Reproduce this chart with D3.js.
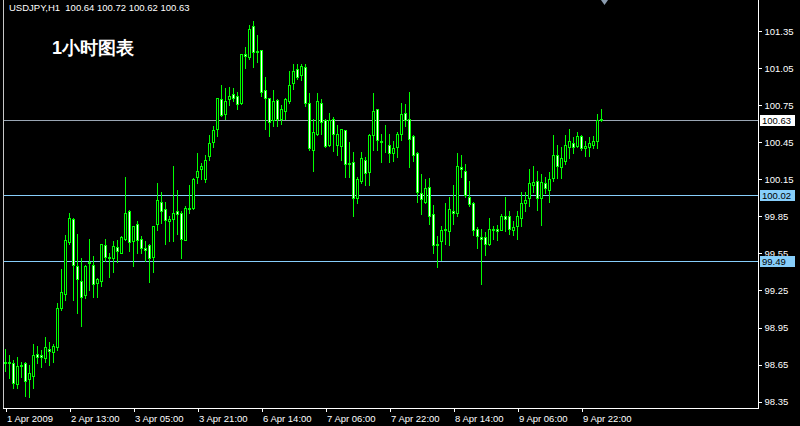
<!DOCTYPE html>
<html><head><meta charset="utf-8">
<script src="https://cdn.jsdelivr.net/npm/d3@7/dist/d3.min.js"></script>
<style>
html,body{margin:0;padding:0;background:#000;}
svg{display:block;}
text{font-family:"Liberation Sans",Arial,sans-serif;}
</style></head>
<body>
<svg id="chart" width="800" height="426"></svg>
<script>
// ---------- data ----------
const symbolLabel = "USDJPY,H1";
const title = "1小时图表";
const opens = [98.67,98.66,98.66,98.49,98.64,98.66,98.53,98.56,98.74,98.73,98.70,98.78,98.75,98.79,99.11,99.22,99.64,99.83,99.45,99.33,
99.21,99.47,99.46,99.31,99.33,99.62,99.52,99.51,99.60,99.55,99.67,99.89,99.65,99.79,99.67,99.59,99.62,99.52,99.79,99.97,
99.91,99.81,99.83,99.89,99.88,99.66,99.92,99.92,100.17,100.23,100.15,100.34,100.45,100.56,100.80,100.68,100.80,100.84,100.82,100.77,
101.16,101.14,101.39,101.18,101.20,100.87,100.81,100.63,100.79,100.64,100.70,100.78,100.93,101.04,100.99,101.06,100.77,100.39,100.52,100.77,
100.63,100.43,100.64,100.43,100.42,100.55,100.27,100.29,100.00,100.14,100.31,100.21,100.51,100.72,100.45,100.45,100.43,100.36,100.41,100.52,
100.69,100.64,100.50,100.36,100.04,99.97,100.09,99.87,99.63,99.65,99.74,99.73,99.89,99.88,100.25,100.22,100.01,99.96,99.75,99.68,
99.68,99.63,99.74,99.75,99.74,99.85,99.85,99.74,99.77,99.84,99.96,100.00,100.10,100.14,100.00,100.12,100.06,100.16,100.35,100.25,
100.30,100.41,100.44,100.42,100.50,100.40,100.41,100.43,100.46,100.64];
const highs = [98.78,98.73,98.69,98.71,98.67,98.67,98.65,98.82,98.80,98.77,98.87,98.83,98.82,99.15,99.42,99.70,99.88,99.84,99.71,99.51,
99.46,99.67,99.53,99.35,99.63,99.67,99.55,99.65,99.66,99.69,100.17,99.90,99.77,99.81,99.69,99.65,99.63,99.77,100.12,100.05,
99.97,99.85,100.26,100.06,99.89,99.93,100.10,100.16,100.36,100.28,100.35,100.51,100.58,100.81,100.91,100.89,100.90,100.89,100.86,101.16,
101.22,101.40,101.43,101.32,101.20,100.98,100.81,100.87,100.80,100.75,100.81,101.03,101.08,101.08,101.08,101.08,100.85,100.64,100.85,100.80,
100.64,100.69,100.65,100.59,100.56,100.55,100.45,100.37,100.17,100.37,100.33,100.52,100.85,100.72,100.52,100.59,100.52,100.46,100.53,100.77,
100.76,100.86,100.51,100.37,100.19,100.15,100.16,99.94,99.69,99.77,99.96,100.01,100.10,100.36,100.35,100.27,100.14,99.97,99.76,99.75,
99.72,99.84,99.77,99.78,99.87,100.01,99.89,99.81,99.89,100.05,100.05,100.23,100.26,100.22,100.19,100.17,100.21,100.51,100.43,100.41,
100.51,100.56,100.49,100.53,100.51,100.46,100.49,100.50,100.68,100.72];
const lows = [98.60,98.54,98.46,98.46,98.55,98.40,98.39,98.46,98.66,98.63,98.67,98.65,98.67,98.77,99.09,99.17,99.63,99.17,99.07,98.96,
99.19,99.25,99.20,99.20,99.29,99.49,99.36,99.40,99.48,99.55,99.66,99.57,99.45,99.55,99.55,99.49,99.32,99.40,99.74,99.80,
99.63,99.65,99.65,99.71,99.51,99.66,99.88,99.91,100.12,100.15,100.13,100.31,100.41,100.50,100.66,100.64,100.75,100.78,100.72,100.76,
101.05,101.12,101.06,101.10,100.82,100.56,100.50,100.58,100.58,100.60,100.64,100.77,100.88,100.96,100.95,100.74,100.39,100.22,100.51,100.52,
100.41,100.42,100.38,100.35,100.31,100.17,100.17,99.85,99.96,100.12,100.10,100.10,100.39,100.39,100.29,100.37,100.29,100.30,100.33,100.47,
100.58,100.25,100.30,99.97,99.87,99.96,99.79,99.55,99.44,99.50,99.63,99.62,99.79,99.85,100.17,100.01,99.93,99.70,99.59,99.30,
99.54,99.62,99.67,99.66,99.74,99.73,99.71,99.70,99.67,99.77,99.89,99.93,100.05,99.90,99.78,100.04,99.97,100.14,100.16,100.16,
100.27,100.32,100.36,100.41,100.39,100.34,100.34,100.40,100.40,100.62];
const closes = [98.66,98.67,98.50,98.64,98.65,98.52,98.58,98.73,98.71,98.71,98.79,98.76,98.80,99.11,99.24,99.66,99.84,99.46,99.34,99.20,
99.45,99.48,99.30,99.34,99.63,99.52,99.51,99.61,99.57,99.68,99.88,99.64,99.77,99.66,99.59,99.58,99.51,99.77,99.98,99.89,
99.82,99.83,99.88,99.87,99.67,99.92,99.91,100.15,100.22,100.26,100.31,100.44,100.55,100.81,100.67,100.78,100.82,100.81,100.76,101.16,
101.15,101.37,101.18,101.19,100.86,100.81,100.61,100.78,100.64,100.72,100.80,100.91,101.03,100.98,101.07,100.77,100.40,100.53,100.78,100.61,
100.42,100.63,100.52,100.52,100.56,100.27,100.28,100.00,100.15,100.32,100.20,100.51,100.70,100.47,100.46,100.45,100.36,100.40,100.52,100.68,
100.63,100.48,100.35,100.05,99.99,100.08,99.85,99.62,99.62,99.74,99.75,99.91,99.88,100.26,100.23,100.02,99.95,99.74,99.69,99.67,
99.63,99.75,99.75,99.73,99.85,99.83,99.75,99.76,99.85,99.96,99.98,100.12,100.13,100.00,100.13,100.08,100.15,100.35,100.26,100.32,
100.43,100.46,100.41,100.50,100.40,100.42,100.44,100.46,100.63,100.63];
const priceTicks = [101.35,101.05,100.75,100.45,100.15,99.85,99.55,99.25,98.95,98.65,98.35];
const timeTickIndex = [0,16,32,48,64,80,96,112,128,144];
const timeTickLabels = ["1 Apr 2009","2 Apr 13:00","3 Apr 05:00","3 Apr 21:00","6 Apr 14:00","7 Apr 06:00","7 Apr 22:00","8 Apr 14:00","9 Apr 06:00","9 Apr 22:00"];
const levelValues = [100.63,100.02,99.49];
const levelKinds = ["bid","line","line"];

// ---------- layout ----------
const svg = d3.select("#chart");
const W = 800, H = 426;
const left = 3, right = 758, bottom = 408;
svg.append("rect").attr("width",W).attr("height",H).attr("fill","#000");

const n = opens.length;
const x = d3.scaleLinear().domain([0, n-1]).range([5, 5 + 4*(n-1)]);
const y = d3.scaleLinear().domain([98.35, 101.35]).range([401.7, 31]);

const lime = "#00ff00";
const g = svg.append("g").attr("shape-rendering","crispEdges");

// level lines
const levelColor = {bid:"#9aa6b4", line:"#87cefa"};
g.selectAll("line.level").data(levelValues).enter().append("line")
  .attr("x1", left).attr("x2", right)
  .attr("y1", d => Math.round(y(d))+0.5).attr("y2", d => Math.round(y(d))+0.5)
  .attr("stroke", (d,i) => levelColor[levelKinds[i]]).attr("stroke-width",1);

// candles
const idx = d3.range(n);
g.selectAll("line.wick").data(idx).enter().append("line")
  .attr("x1", i => Math.round(x(i))+0.5).attr("x2", i => Math.round(x(i))+0.5)
  .attr("y1", i => Math.round(y(highs[i]))).attr("y2", i => Math.round(y(lows[i]))+1)
  .attr("stroke", lime).attr("stroke-width",1);

g.selectAll("rect.body").data(idx).enter().append("rect")
  .attr("x", i => Math.round(x(i))-0.5)
  .attr("y", i => Math.round(y(Math.max(opens[i],closes[i])))+0.5)
  .attr("width", 2)
  .attr("height", i => Math.max(0, Math.round(y(Math.min(opens[i],closes[i]))) - Math.round(y(Math.max(opens[i],closes[i])))))
  .attr("fill", i => closes[i] >= opens[i] ? "#000" : "#fff")
  .attr("stroke", lime).attr("stroke-width",1);

// frame
g.append("line").attr("x1",left+0.5).attr("x2",left+0.5).attr("y1",0).attr("y2",bottom+1).attr("stroke","#c8c8c8");
g.append("line").attr("x1",right+0.5).attr("x2",right+0.5).attr("y1",0).attr("y2",bottom+1).attr("stroke","#fff");
g.append("line").attr("x1",left).attr("x2",right+1).attr("y1",bottom+0.5).attr("y2",bottom+0.5).attr("stroke","#fff");

// right price axis
const yAxis = d3.axisRight(y).tickValues(priceTicks).tickFormat(d3.format(".2f")).tickSize(3).tickPadding(3);
const ya = svg.append("g").attr("transform",`translate(${right+0.5},0)`).call(yAxis);
ya.select(".domain").remove();
ya.selectAll(".tick line").attr("stroke","#fff").attr("shape-rendering","crispEdges");
ya.selectAll(".tick text").attr("fill","#fff").attr("font-size","9.5px").attr("font-family","Liberation Sans, Arial, sans-serif");

// bottom time axis
const xAxis = d3.axisBottom(x).tickValues(timeTickIndex).tickFormat((d,i) => timeTickLabels[i]).tickSize(4).tickPadding(3);
const xa = svg.append("g").attr("transform",`translate(0.5,${bottom})`).call(xAxis);
xa.select(".domain").remove();
xa.selectAll(".tick line").attr("stroke","#fff").attr("shape-rendering","crispEdges");
xa.selectAll(".tick text").attr("fill","#fff").attr("font-size","9.5px").attr("text-anchor","start").attr("x",1)
  .attr("font-family","Liberation Sans, Arial, sans-serif");

// level labels
const lab = svg.append("g");
levelValues.forEach((v,i) => {
  const cy = Math.round(y(v));
  lab.append("rect").attr("x", right+2).attr("y", cy-5.5).attr("width", 35).attr("height", 11)
    .attr("fill", levelKinds[i]==="bid" ? "#fff" : "#87cefa").attr("shape-rendering","crispEdges");
  lab.append("text").attr("x", right+4).attr("y", cy+3.5).attr("font-size","9.5px").attr("fill","#000")
    .text(d3.format(".2f")(v));
});

// header
svg.append("text").attr("x",9).attr("y",11).attr("fill","#fff").attr("font-size","9.5px")
  .attr("xml:space","preserve")
  .text(`${symbolLabel}  ${d3.format(".2f")(opens[n-1])} ${d3.format(".2f")(highs[n-1])} ${d3.format(".2f")(lows[n-1])} ${d3.format(".2f")(closes[n-1])}`);

svg.append("text").attr("x",52).attr("y",54).attr("fill","#fff").attr("font-size","18px").attr("font-weight","bold")
  .attr("font-family","Noto Sans CJK SC, sans-serif").text(title);

// chart shift marker
const sx = Math.round(x(n-1)) + 3.5;
svg.append("path").attr("d", `M${sx-3.5},0 L${sx+3.5},0 L${sx},5 Z`).attr("fill","#8c9db0");
</script>
</body></html>
